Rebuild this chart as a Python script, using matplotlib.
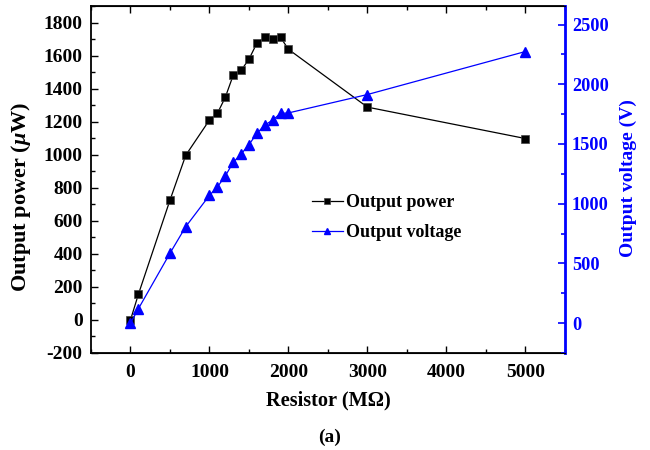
import matplotlib
matplotlib.use("Agg")
import matplotlib.pyplot as plt
from matplotlib.ticker import MultipleLocator

plt.rcParams["font.family"] = ["Liberation Serif", "DejaVu Serif"]
plt.rcParams["font.weight"] = "bold"
plt.rcParams["mathtext.fontset"] = "custom"
plt.rcParams["mathtext.it"] = "Liberation Serif:italic:bold"
plt.rcParams["mathtext.rm"] = "Liberation Serif:bold"
plt.rcParams["axes.unicode_minus"] = False
plt.rcParams["xtick.direction"] = "in"
plt.rcParams["ytick.direction"] = "in"

resistor = [0, 100, 500, 700, 1000, 1100, 1200, 1300, 1400, 1500,
            1600, 1700, 1800, 1900, 2000, 3000, 5000]
power = [0, 155, 725, 997, 1210, 1250, 1347, 1480, 1510, 1578,
         1675, 1710, 1703, 1710, 1638, 1288, 1098]
voltage = [0, 120, 585, 808, 1070, 1140, 1231, 1346, 1415, 1494,
           1588, 1658, 1700, 1756, 1760, 1914, 2274]

fig = plt.figure(figsize=(6.5, 4.5), dpi=100)
ax = fig.add_axes([0.14, 0.2156, 0.729, 0.771])
ax2 = ax.twinx()

l1, = ax.plot(resistor, power, "-s", color="black", lw=0.9, ms=6,
              mec="#444444", mew=0.5, label="Output power")
l2, = ax2.plot(resistor, voltage, "-^", color="blue", lw=0.9, ms=7,
               mec="blue", label="Output voltage")

ax.set_xlim(-500, 5500)
ax.set_ylim(-200, 1900)
ax2.set_ylim(-250, 2655)

ax.xaxis.set_major_locator(MultipleLocator(1000))
ax.xaxis.set_minor_locator(MultipleLocator(500))
ax.yaxis.set_major_locator(MultipleLocator(200))
ax.yaxis.set_minor_locator(MultipleLocator(100))
ax2.yaxis.set_major_locator(MultipleLocator(500))
ax2.yaxis.set_minor_locator(MultipleLocator(250))

ax.tick_params(axis="x", which="both", direction="in", top=True, labelsize=14, pad=8)
ax.tick_params(axis="y", which="both", direction="in", labelsize=14, pad=6)
ax.tick_params(which="major", length=5, width=1)
ax.tick_params(which="minor", length=3, width=1)
ax2.tick_params(axis="y", which="both", direction="in", colors="blue", labelsize=13.2, pad=5)
ax2.tick_params(which="major", length=5, width=1.2)
ax2.tick_params(which="minor", length=3, width=1.2)

for s in ["left", "bottom", "top"]:
    ax.spines[s].set_linewidth(1.3)
ax2.spines["right"].set_color("blue")
ax2.spines["right"].set_linewidth(2)
ax2.spines["left"].set_visible(False)

ax.set_xlabel("Resistor (M\u03a9)", fontsize=14.7, fontweight="bold")
ax.xaxis.set_label_coords(0.502, -0.108)
ax.set_ylabel("Output power ($\\mu$W)", fontsize=16, fontweight="bold")
ax.yaxis.set_label_coords(-0.123, 0.45)
ax2.set_ylabel("Output voltage (V)", fontsize=14, fontweight="bold", color="blue")
ax2.yaxis.set_label_coords(1.116, 0.505)

ax.legend([l1, l2], ["Output power", "Output voltage"], frameon=False,
          loc="upper left", bbox_to_anchor=(0.466, 0.458), fontsize=13,
          borderpad=0, borderaxespad=0,
          handlelength=1.7, handletextpad=0.2, labelspacing=0.72, markerscale=0.7)

fig.text(0.507, 0.029, "(a)", ha="center", va="center", fontsize=14, fontweight="bold")

fig.savefig("out.png", dpi=100)
